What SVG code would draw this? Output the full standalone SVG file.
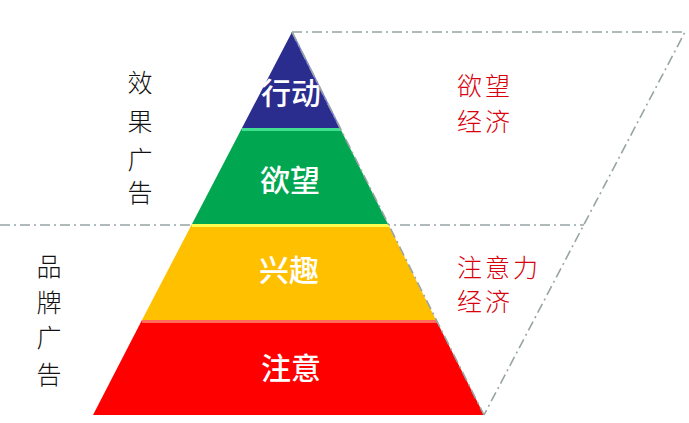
<svg xmlns="http://www.w3.org/2000/svg" width="689" height="423" viewBox="0 0 689 423">
<style>
.dash{fill:none;stroke:#98a4a4;stroke-width:1.6;stroke-dasharray:10 4 2 4}
.lbl{font-family:"Noto Sans CJK SC","Noto Sans",sans-serif;fill:#ffffff;font-size:30px;text-anchor:middle;font-weight:500}
.side{font-family:"Noto Sans CJK SC","Noto Sans",sans-serif;fill:#111;font-size:25px;text-anchor:middle;font-weight:300}
.red{font-family:"Noto Sans CJK SC","Noto Sans",sans-serif;fill:#d8000c;font-size:25px;font-weight:300;letter-spacing:3px}
</style>
<rect width="689" height="423" fill="#ffffff"/>
<g id="connectors">
<line class="dash" x1="0" y1="225" x2="584" y2="225"/>
<polyline class="dash" points="292,32 685,32 484,415"/>
</g>
<g id="layer-action">
<polygon points="292,32 340,128 242,128" fill="#2b2d8e"/>
<line x1="292" y1="32" x2="340" y2="128" stroke="#7b80d8" stroke-width="1.5"/>
<text class="lbl" x="291" y="104">行动</text>
</g>
<g id="layer-desire">
<polygon points="242,128 340,128 388,224 192,224" fill="#00a650"/>
<line x1="242" y1="129.5" x2="341" y2="129.5" stroke="#40e090" stroke-width="3"/>
<text class="lbl" x="290" y="191">欲望</text>
</g>
<g id="layer-interest">
<polygon points="192,224 388,224 436,320 142,320" fill="#ffc000"/>
<line x1="192" y1="225.5" x2="389" y2="225.5" stroke="#ffff50" stroke-width="3"/>
<text class="lbl" x="289" y="281">兴趣</text>
</g>
<g id="layer-attention">
<polygon points="142,320 436,320 484,415 93,415" fill="#ff0000"/>
<line x1="142" y1="321.5" x2="437" y2="321.5" stroke="#ff6a5a" stroke-width="3"/>
<text class="lbl" x="291" y="379">注意</text>
</g>
<line class="dash" x1="292" y1="32" x2="484" y2="415"/>
<g id="label-effect">
<text class="side" x="140" y="92">效</text>
<text class="side" x="140" y="131">果</text>
<text class="side" x="140" y="169">广</text>
<text class="side" x="140" y="202">告</text>
</g>
<g id="label-brand">
<text class="side" x="49" y="276">品</text>
<text class="side" x="49" y="312">牌</text>
<text class="side" x="49" y="347">广</text>
<text class="side" x="49" y="384">告</text>
</g>
<g id="label-desire-economy">
<text class="red" x="457" y="95">欲望</text>
<text class="red" x="457" y="131">经济</text>
</g>
<g id="label-attention-economy">
<text class="red" x="457" y="277">注意力</text>
<text class="red" x="457" y="311">经济</text>
</g>
</svg>
